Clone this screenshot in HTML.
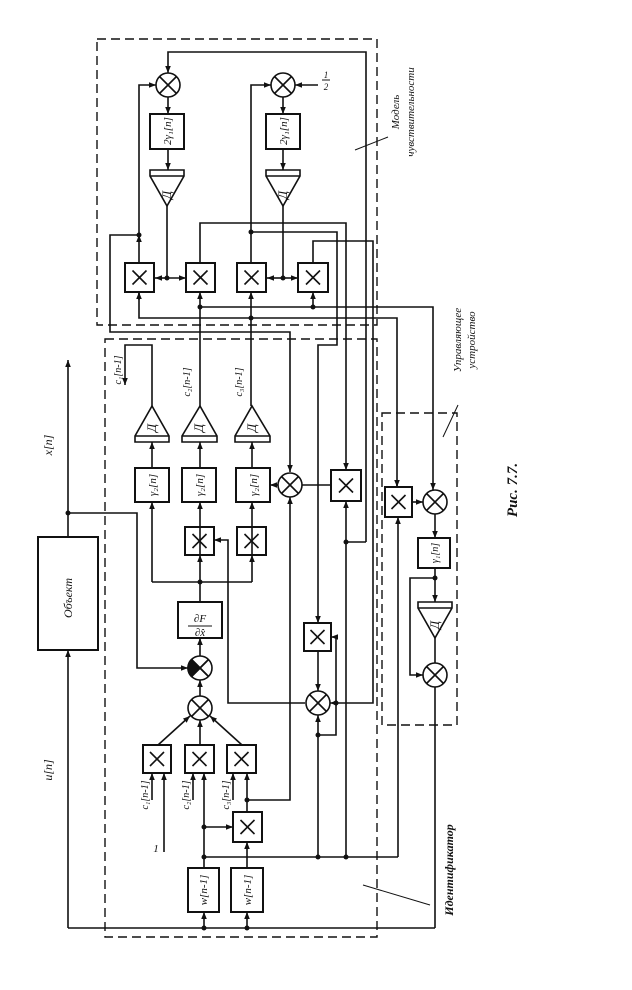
<!DOCTYPE html>
<html><head><meta charset="utf-8"><style>
html,body{margin:0;padding:0;background:#fff;}
svg{display:block;}
text{font-family:"Liberation Serif","DejaVu Serif",serif;font-style:italic;fill:#111;}
</style></head><body>
<svg width="632" height="990" viewBox="0 0 632 990" xmlns="http://www.w3.org/2000/svg">
<defs>
<marker id="a" viewBox="0 0 10 10" refX="10" refY="5" markerWidth="7" markerHeight="7" orient="auto-start-reverse" markerUnits="userSpaceOnUse"><path d="M0,1 L10,5 L0,9 z" fill="#111"/></marker>
<g id="x"><line x1="-7" y1="-7" x2="7" y2="7"/><line x1="-7" y1="7" x2="7" y2="-7"/></g>
</defs>
<g stroke="#111" stroke-width="1.6" fill="none">
<!-- dashed boxes -->
<g stroke-dasharray="9,5" stroke-width="1.4">
<rect x="97" y="39" width="280" height="286"/>
<rect x="105" y="339" width="272" height="598"/>
<rect x="382" y="413" width="75" height="312"/>
</g>
<!-- object -->
<rect x="38" y="537" width="60" height="113" stroke-width="2"/>
<line x1="68" y1="537" x2="68" y2="360" marker-end="url(#a)"/>
<polyline points="68,928 68,650" marker-end="url(#a)"/>
<polyline points="68,513 137,513 137,668 188,668" marker-end="url(#a)"/>
<line x1="68" y1="928" x2="435" y2="928"/>

<!-- SENSITIVITY MODEL -->
<polyline points="366,542 366,52 168,52 168,73" marker-end="url(#a)"/>
<circle cx="168" cy="85" r="12"/><circle cx="283" cy="85" r="12"/>
<line x1="168" y1="97" x2="168" y2="114" marker-end="url(#a)"/>
<line x1="283" y1="97" x2="283" y2="114" marker-end="url(#a)"/>
<line x1="318" y1="85" x2="295" y2="85" marker-end="url(#a)"/>
<rect x="150" y="114" width="34" height="35" stroke-width="2"/>
<rect x="266" y="114" width="34" height="35" stroke-width="2"/>
<line x1="168" y1="149" x2="168" y2="170" marker-end="url(#a)"/>
<line x1="283" y1="149" x2="283" y2="170" marker-end="url(#a)"/>
<path d="M150,170 L184,170 L184,176 L167,206 L150,176 Z M150,176 L184,176"/>
<path d="M266,170 L300,170 L300,176 L283,206 L266,176 Z M266,176 L300,176"/>
<line x1="167" y1="206" x2="167" y2="278"/>
<line x1="167" y1="278" x2="155" y2="278" marker-end="url(#a)"/>
<line x1="167" y1="278" x2="186" y2="278" marker-end="url(#a)"/>
<line x1="283" y1="206" x2="283" y2="278"/>
<line x1="283" y1="278" x2="267" y2="278" marker-end="url(#a)"/>
<line x1="283" y1="278" x2="298" y2="278" marker-end="url(#a)"/>
<rect x="125" y="263" width="29" height="29" stroke-width="2"/>
<rect x="186" y="263" width="29" height="29" stroke-width="2"/>
<rect x="237" y="263" width="29" height="29" stroke-width="2"/>
<rect x="298" y="263" width="30" height="29" stroke-width="2"/>
<use href="#x" x="139.5" y="277.5"/><use href="#x" x="200.5" y="277.5"/><use href="#x" x="251.5" y="277.5"/><use href="#x" x="313" y="277.5"/>
<!-- box1 out -->
<polyline points="139,263 139,85 156,85" marker-end="url(#a)"/>
<line x1="139" y1="263" x2="139" y2="235" marker-end="url(#a)" stroke-width="0"/>
<polyline points="139,235 110,235 110,332 290,332 290,472" marker-end="url(#a)"/>
<!-- box3 out -->
<polyline points="251,263 251,85 271,85" marker-end="url(#a)"/>
<polyline points="251,232 337,232 337,345 318,345 318,623" marker-end="url(#a)"/>
<!-- box2 out -->
<polyline points="200,263 200,223 346,223 346,470" marker-end="url(#a)"/>
<!-- box4 out -->
<polyline points="313,263 313,241 373,241 373,703 330,703" marker-end="url(#a)"/>
<!-- buses -->
<polyline points="139,292 139,318 397,318 397,487" stroke-width="1.6"/>
<line x1="139" y1="300" x2="139" y2="292" marker-end="url(#a)"/>
<polyline points="200,307 433,307 433,490" marker-end="url(#a)"/>
<line x1="313" y1="307" x2="313" y2="292" marker-end="url(#a)"/>
<line x1="200" y1="406" x2="200" y2="292" marker-end="url(#a)"/>
<line x1="251" y1="406" x2="251" y2="292" marker-end="url(#a)"/>
<line x1="397" y1="480" x2="397" y2="487" marker-end="url(#a)"/>

<!-- IDENTIFIER -->
<path d="M135,442 L169,442 L169,436 L152,406 L135,436 Z M135,436 L169,436"/>
<path d="M182,442 L217,442 L217,436 L200,406 L182,436 Z M182,436 L217,436"/>
<path d="M235,442 L270,442 L270,436 L252,406 L235,436 Z M235,436 L270,436"/>
<polyline points="152,406 152,345 125,345 125,385" marker-end="url(#a)"/>
<line x1="152" y1="468" x2="152" y2="442" marker-end="url(#a)"/>
<line x1="200" y1="468" x2="200" y2="442" marker-end="url(#a)"/>
<line x1="252" y1="468" x2="252" y2="442" marker-end="url(#a)"/>
<rect x="135" y="468" width="34" height="34" stroke-width="2"/>
<rect x="182" y="468" width="34" height="34" stroke-width="2"/>
<rect x="236" y="468" width="34" height="34" stroke-width="2"/>
<circle cx="290" cy="485" r="12"/>
<line x1="278" y1="485" x2="270" y2="485" marker-end="url(#a)"/>
<line x1="331" y1="485" x2="302" y2="485"/>
<rect x="331" y="470" width="30" height="31" stroke-width="2"/>
<use href="#x" x="346" y="485.5"/>
<polyline points="346,858 346,501" marker-end="url(#a)"/>
<line x1="346" y1="542" x2="366" y2="542"/>
<polyline points="152,582 152,502" marker-end="url(#a)"/>
<line x1="152" y1="582" x2="252" y2="582"/>
<line x1="200" y1="555" x2="200" y2="502" marker-end="url(#a)"/>
<line x1="252" y1="555" x2="252" y2="502" marker-end="url(#a)"/>
<line x1="200" y1="582" x2="200" y2="555" marker-end="url(#a)"/>
<line x1="252" y1="582" x2="252" y2="555" marker-end="url(#a)"/>
<rect x="185" y="527" width="29" height="28" stroke-width="2"/>
<rect x="237" y="527" width="29" height="28" stroke-width="2"/>
<use href="#x" x="199.5" y="541"/><use href="#x" x="251.5" y="541"/>
<line x1="200" y1="602" x2="200" y2="582"/>
<rect x="178" y="602" width="44" height="36" stroke-width="2"/>
<line x1="200" y1="656" x2="200" y2="638" marker-end="url(#a)"/>
<polyline points="305,703 228,703 228,540 214,540" marker-end="url(#a)"/>
<!-- adder & filled -->
<circle cx="200" cy="668" r="12"/>
<path d="M200,668 L191.5,659.5 A12,12 0 0 0 191.5,676.5 Z" fill="#111"/>
<use href="#x" x="200" y="668" transform="rotate(0)"/>
<circle cx="200" cy="708" r="12"/>
<line x1="200" y1="696" x2="200" y2="680" marker-end="url(#a)"/>
<rect x="143" y="745" width="28" height="28" stroke-width="2"/>
<rect x="185" y="745" width="29" height="28" stroke-width="2"/>
<rect x="227" y="745" width="29" height="28" stroke-width="2"/>
<use href="#x" x="157" y="759"/><use href="#x" x="199.5" y="759"/><use href="#x" x="241.5" y="759"/>
<line x1="158" y1="745" x2="190" y2="716" marker-end="url(#a)"/>
<line x1="200" y1="745" x2="200" y2="720" marker-end="url(#a)"/>
<line x1="242" y1="745" x2="210" y2="716" marker-end="url(#a)"/>
<line x1="152" y1="800" x2="152" y2="773" marker-end="url(#a)"/>
<line x1="164" y1="852" x2="164" y2="773" marker-end="url(#a)"/>
<line x1="193" y1="800" x2="193" y2="773" marker-end="url(#a)"/>
<line x1="204" y1="868" x2="204" y2="773" marker-end="url(#a)"/>
<line x1="233" y1="800" x2="233" y2="773" marker-end="url(#a)"/>
<line x1="247" y1="812" x2="247" y2="773" marker-end="url(#a)"/>
<polyline points="247,800 290,800 290,497" marker-end="url(#a)"/>
<line x1="204" y1="827" x2="233" y2="827" marker-end="url(#a)"/>
<rect x="233" y="812" width="29" height="30" stroke-width="2"/>
<use href="#x" x="247.5" y="827"/>
<line x1="247" y1="868" x2="247" y2="842" marker-end="url(#a)"/>
<rect x="188" y="868" width="31" height="44" stroke-width="2"/>
<rect x="231" y="868" width="32" height="44" stroke-width="2"/>
<line x1="204" y1="928" x2="204" y2="912" marker-end="url(#a)"/>
<line x1="247" y1="928" x2="247" y2="912" marker-end="url(#a)"/>
<line x1="204" y1="857" x2="398" y2="857"/>
<line x1="398" y1="857" x2="398" y2="517" marker-end="url(#a)"/>
<!-- identifier x box & adder -->
<rect x="304" y="623" width="27" height="28" stroke-width="2"/>
<use href="#x" x="317.5" y="637"/>
<line x1="318" y1="651" x2="318" y2="691" marker-end="url(#a)"/>
<circle cx="318" cy="703" r="12"/>
<polyline points="336,703 336,637 331,637" marker-end="url(#a)"/>
<polyline points="336,703 336,735 318,735 318,715" marker-end="url(#a)"/>
<line x1="318" y1="735" x2="318" y2="857"/>
<!-- CONTROL -->
<rect x="385" y="487" width="27" height="30" stroke-width="2"/>
<use href="#x" x="398.5" y="502"/>
<line x1="412" y1="502" x2="423" y2="502" marker-end="url(#a)"/>
<circle cx="435" cy="502" r="12"/>
<line x1="435" y1="514" x2="435" y2="538" marker-end="url(#a)"/>
<rect x="418" y="538" width="32" height="30" stroke-width="2"/>
<line x1="435" y1="568" x2="435" y2="602" marker-end="url(#a)"/>
<polyline points="435,578 410,578 410,675 423,675" marker-end="url(#a)"/>
<path d="M418,602 L452,602 L452,608 L435,638 L418,608 Z M418,608 L452,608"/>
<line x1="435" y1="638" x2="435" y2="663"/>
<circle cx="435" cy="675" r="12"/>
<line x1="435" y1="687" x2="435" y2="928"/>
<!-- leaders -->
<line x1="355" y1="150" x2="388" y2="137" stroke-width="1"/>
<line x1="443" y1="437" x2="458" y2="405" stroke-width="1"/>
<line x1="363" y1="885" x2="430" y2="905" stroke-width="1"/>
</g>
<!-- circle crosses -->
<g stroke="#111" stroke-width="1.6">
<g transform="translate(168,85)"><line x1="-8.5" y1="-8.5" x2="8.5" y2="8.5"/><line x1="-8.5" y1="8.5" x2="8.5" y2="-8.5"/></g>
<g transform="translate(283,85)"><line x1="-8.5" y1="-8.5" x2="8.5" y2="8.5"/><line x1="-8.5" y1="8.5" x2="8.5" y2="-8.5"/></g>
<g transform="translate(290,485)"><line x1="-8.5" y1="-8.5" x2="8.5" y2="8.5"/><line x1="-8.5" y1="8.5" x2="8.5" y2="-8.5"/></g>
<g transform="translate(200,668)"><line x1="-8.5" y1="-8.5" x2="8.5" y2="8.5"/><line x1="-8.5" y1="8.5" x2="8.5" y2="-8.5"/></g>
<g transform="translate(200,708)"><line x1="-8.5" y1="-8.5" x2="8.5" y2="8.5"/><line x1="-8.5" y1="8.5" x2="8.5" y2="-8.5"/></g>
<g transform="translate(318,703)"><line x1="-8.5" y1="-8.5" x2="8.5" y2="8.5"/><line x1="-8.5" y1="8.5" x2="8.5" y2="-8.5"/></g>
<g transform="translate(435,502)"><line x1="-8.5" y1="-8.5" x2="8.5" y2="8.5"/><line x1="-8.5" y1="8.5" x2="8.5" y2="-8.5"/></g>
<g transform="translate(435,675)"><line x1="-8.5" y1="-8.5" x2="8.5" y2="8.5"/><line x1="-8.5" y1="8.5" x2="8.5" y2="-8.5"/></g>
</g>
<!-- junction dots -->
<g fill="#111">
<circle cx="68" cy="513" r="2.5"/><circle cx="139" cy="235" r="2.5"/><circle cx="251" cy="232" r="2.5"/>
<circle cx="167" cy="278" r="2.5"/><circle cx="283" cy="278" r="2.5"/><circle cx="200" cy="307" r="2.5"/>
<circle cx="313" cy="307" r="2.5"/><circle cx="251" cy="318" r="2.5"/><circle cx="200" cy="582" r="2.5"/>
<circle cx="346" cy="542" r="2.5"/><circle cx="204" cy="827" r="2.5"/><circle cx="204" cy="857" r="2.5"/>
<circle cx="247" cy="800" r="2.5"/><circle cx="318" cy="857" r="2.5"/><circle cx="346" cy="857" r="2.5"/>
<circle cx="336" cy="703" r="2.5"/><circle cx="318" cy="735" r="2.5"/><circle cx="204" cy="928" r="2.5"/>
<circle cx="247" cy="928" r="2.5"/><circle cx="435" cy="578" r="2.5"/>
</g>
<!-- text -->
<g font-size="11" text-anchor="middle">
<text transform="translate(72,598) rotate(-90)" font-size="12">Объект</text>
<text transform="translate(52,445) rotate(-90)" font-size="12">x[n]</text>
<text transform="translate(52,770) rotate(-90)" font-size="12">u[n]</text>
<text transform="translate(171,131) rotate(-90)">2γ₁[n]</text>
<text transform="translate(287,131) rotate(-90)">2γ₁[n]</text>
<text transform="translate(171,195) rotate(-90)" font-size="13">Д</text>
<text transform="translate(287,195) rotate(-90)" font-size="13">Д</text>
<text transform="translate(156,428) rotate(-90)" font-size="13">Д</text>
<text transform="translate(203,428) rotate(-90)" font-size="13">Д</text>
<text transform="translate(256,428) rotate(-90)" font-size="13">Д</text>
<text transform="translate(439,625) rotate(-90)" font-size="13">Д</text>
<text transform="translate(156,485) rotate(-90)">γ₂[n]</text>
<text transform="translate(203,485) rotate(-90)">γ₂[n]</text>
<text transform="translate(257,485) rotate(-90)">γ₂[n]</text>
<text transform="translate(438,553) rotate(-90)" font-size="10">γ₁[n]</text>
<text transform="translate(121,370) rotate(-90)" font-size="10">c₁[n-1]</text>
<text transform="translate(190,382) rotate(-90)" font-size="10">c₂[n-1]</text>
<text transform="translate(242,382) rotate(-90)" font-size="10">c₃[n-1]</text>
<text transform="translate(148,795) rotate(-90)" font-size="10">c₁[n-1]</text>
<text transform="translate(189,795) rotate(-90)" font-size="10">c₂[n-1]</text>
<text transform="translate(229,795) rotate(-90)" font-size="10">c₃[n-1]</text>
<text x="156" y="852" font-size="11">1</text>
<text transform="translate(207,890) rotate(-90)">w[n-1]</text>
<text transform="translate(251,890) rotate(-90)">w[n-1]</text>
<text x="200" y="622" font-size="11">∂F</text>
<line x1="188" y1="626" x2="212" y2="626" stroke="#111" stroke-width="1"/>
<text x="200" y="636" font-size="11">∂x̂</text>
<text x="326" y="78" font-size="9">1</text>
<line x1="322" y1="80" x2="330" y2="80" stroke="#111" stroke-width="1"/>
<text x="326" y="90" font-size="9">2</text>
<text transform="translate(399,112) rotate(-90)" font-size="11">Модель</text>
<text transform="translate(414,112) rotate(-90)" font-size="11">чувствительности</text>
<text transform="translate(461,340) rotate(-90)" font-size="11">Управляющее</text>
<text transform="translate(475,340) rotate(-90)" font-size="11">устройство</text>
<text transform="translate(453,870) rotate(-90)" font-size="12" font-weight="bold">Идентификатор</text>
<text transform="translate(517,490) rotate(-90)" font-size="15" font-style="normal" font-weight="bold">Рис. 7.7.</text>
</g>
</svg>
</body></html>
